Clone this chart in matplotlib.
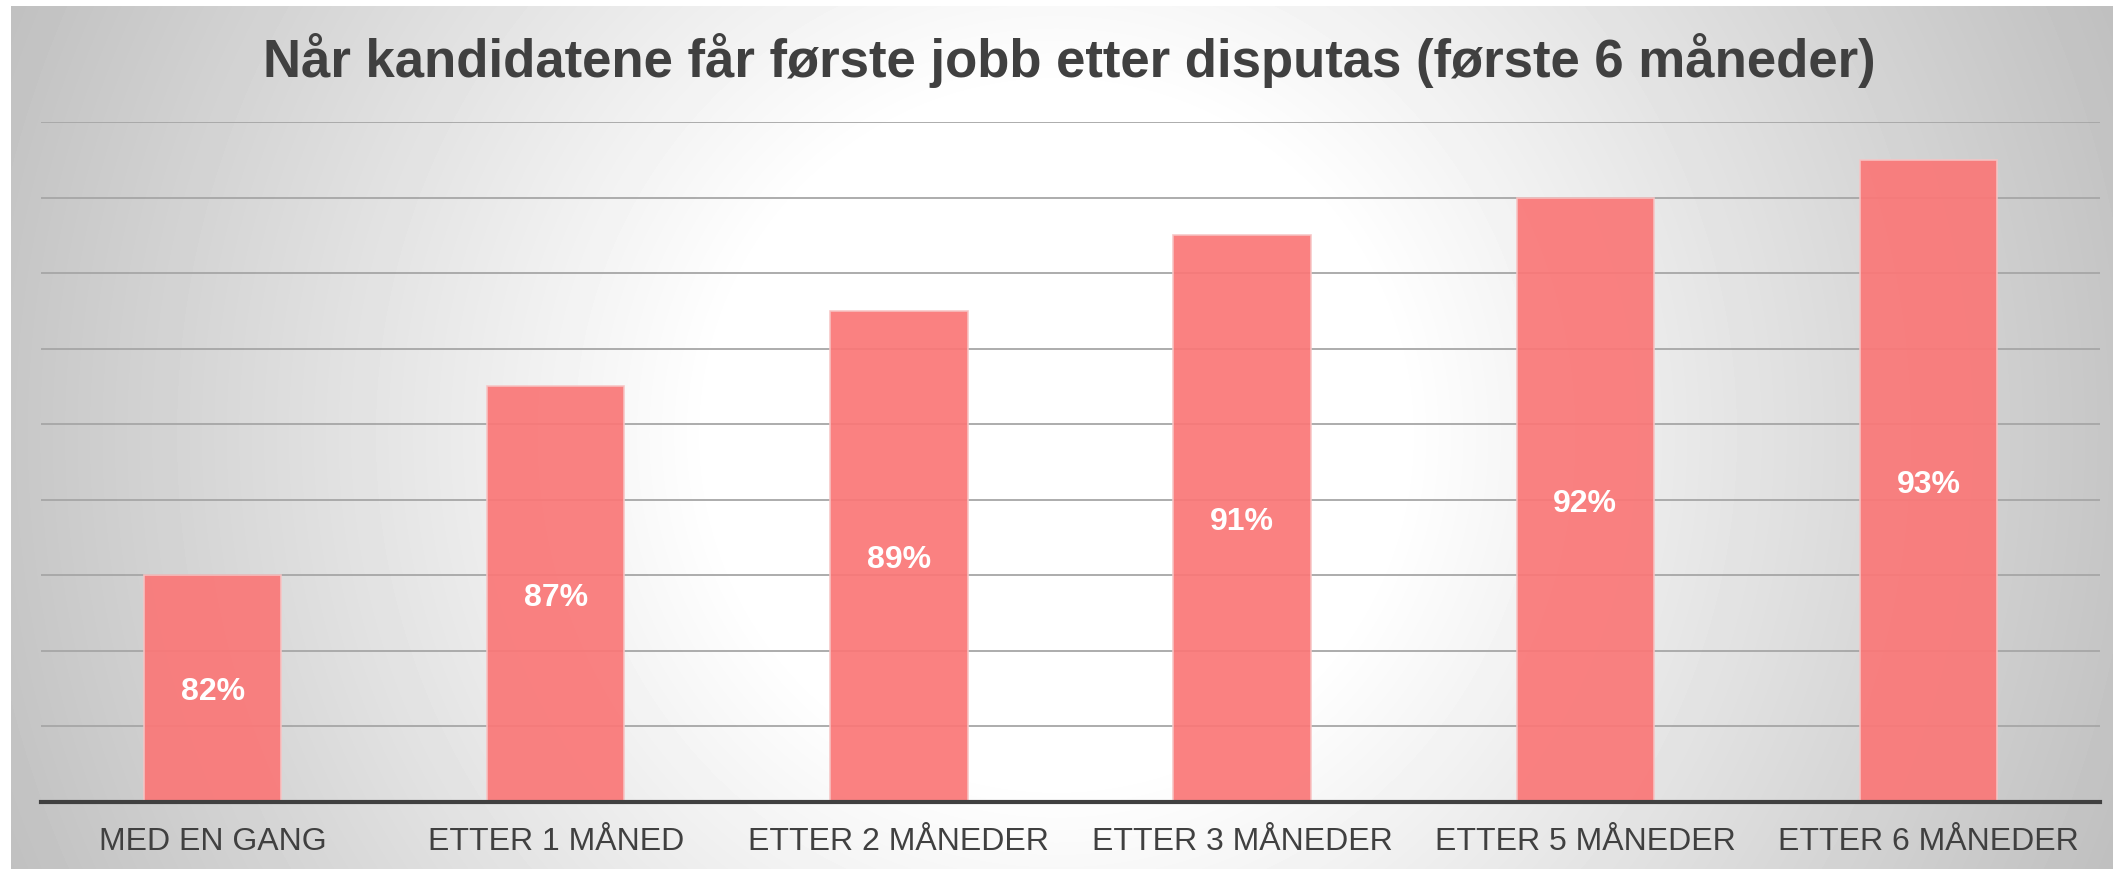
import numpy as np
import matplotlib
matplotlib.use('Agg')
import matplotlib.pyplot as plt

plt.rcParams['font.family'] = ['Liberation Sans', 'DejaVu Sans']

categories = ['MED EN GANG', 'ETTER 1 MÅNED', 'ETTER 2 MÅNEDER',
              'ETTER 3 MÅNEDER', 'ETTER 5 MÅNEDER', 'ETTER 6 MÅNEDER']
values = [82, 87, 89, 91, 92, 93]
title = 'Når kandidatene får første jobb etter disputas (første 6 måneder)'

W, H = 2113, 869
fig = plt.figure(figsize=(W / 100, H / 100), dpi=100)
fig.patch.set_facecolor('white')

# radial grey background panel
bg = fig.add_axes([11 / W, 0, 1 - 11 / W, 1 - 6 / H])
bg.set_axis_off()
xx, yy = np.meshgrid(np.arange(11, W), np.arange(6, H))
r = np.hypot(xx - 1056, yy - 435) / 1045.0
shade = 1 - 0.22 * np.clip((r - 0.33) / 0.67, 0, 1.2)
bg.imshow(shade, cmap='gray', vmin=0, vmax=1, aspect='auto',
          extent=[0, 1, 0, 1], interpolation='bilinear')
bg.set_xlim(0, 1)
bg.set_ylim(0, 1)

ax = fig.add_axes([41 / W, (H - 802) / H, (2100 - 41) / W, (802 - 122) / H])
ax.patch.set_alpha(0)
x = np.arange(len(categories))
ax.bar(x, [v - 76 for v in values], bottom=76, width=0.4,
       color='#FA7878', alpha=0.93, edgecolor='#F7C4C4', linewidth=1.2,
       zorder=3)
for xi, v in zip(x, values):
    ax.text(xi, (76 + v) / 2 - 0.1, f'{v}%', ha='center', va='center',
            color='white', fontsize=23, fontweight='bold', zorder=4)

ax.set_xlim(-0.5, len(categories) - 0.5)
ax.set_ylim(76, 94)
ax.set_yticks(np.arange(76, 95, 2))
ax.yaxis.grid(True, color='#a6a6a6', linewidth=1.3, zorder=1)
ax.set_axisbelow(True)
ax.tick_params(axis='y', left=False, labelleft=False)
ax.set_xticks(x)
ax.set_xticklabels(categories, fontsize=23, color='#404040')
ax.tick_params(axis='x', length=0, pad=18)
for s in ['left', 'right', 'top']:
    ax.spines[s].set_visible(False)
ax.spines['bottom'].set_color('#404040')
ax.spines['bottom'].set_linewidth(3)
ax.spines['bottom'].set_zorder(5)

fig.text(0.506, 1 - 61 / H, title, ha='center', va='center',
         fontsize=38, fontweight='bold', color='#404040')

fig.savefig('out.png', dpi=100)
